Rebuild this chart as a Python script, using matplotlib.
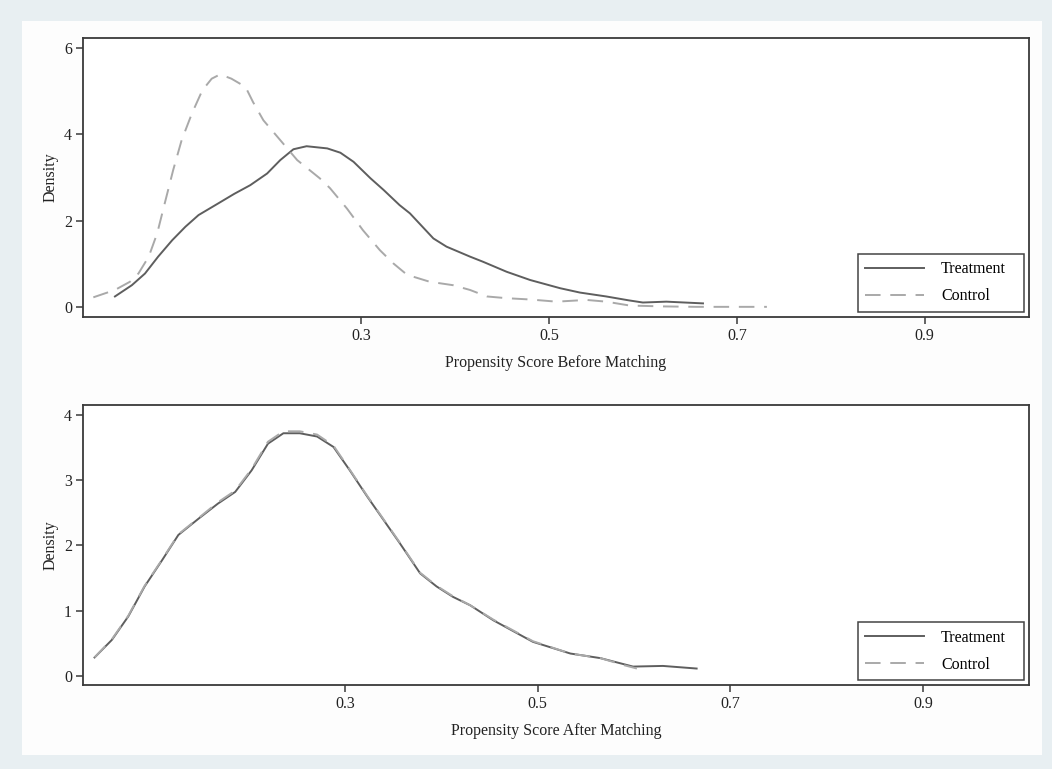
import matplotlib
matplotlib.use("Agg")
import matplotlib.pyplot as plt
from matplotlib.patches import Rectangle

plt.rcParams['font.family'] = ['Liberation Serif', 'DejaVu Serif']

# Before matching: kernel density
treat_x = [0.038, 0.056, 0.070, 0.084, 0.099, 0.113, 0.127, 0.148, 0.165, 0.182,
           0.200, 0.214, 0.228, 0.242, 0.264, 0.278, 0.292, 0.310, 0.324, 0.341,
           0.352, 0.377, 0.391, 0.416, 0.430, 0.455, 0.480, 0.512, 0.533, 0.561,
           0.585, 0.600, 0.625, 0.664]
treat_y = [0.25, 0.51, 0.78, 1.17, 1.55, 1.86, 2.13, 2.40, 2.62, 2.82,
           3.09, 3.40, 3.65, 3.72, 3.67, 3.57, 3.36, 2.98, 2.71, 2.36,
           2.17, 1.59, 1.40, 1.17, 1.05, 0.82, 0.63, 0.44, 0.34, 0.25,
           0.16, 0.11, 0.13, 0.09]

ctrl_x = [0.015, 0.038, 0.054, 0.063, 0.074, 0.083, 0.091, 0.100, 0.109, 0.120,
          0.131, 0.141, 0.150, 0.162, 0.177, 0.185, 0.196, 0.214, 0.232, 0.256,
          0.267, 0.285, 0.302, 0.320, 0.334, 0.349, 0.373, 0.398, 0.416, 0.434,
          0.455, 0.480, 0.508, 0.540, 0.561, 0.586, 0.622, 0.657, 0.732]
ctrl_y = [0.23, 0.40, 0.59, 0.78, 1.17, 1.71, 2.40, 3.17, 3.86, 4.48,
          5.01, 5.28, 5.38, 5.28, 5.09, 4.74, 4.32, 3.86, 3.40, 2.98,
          2.75, 2.28, 1.78, 1.32, 1.02, 0.75, 0.59, 0.51, 0.40, 0.25,
          0.21, 0.18, 0.13, 0.17, 0.13, 0.04, 0.02, 0.01, 0.01]

# After matching
m_treat_x = [0.040, 0.058, 0.075, 0.092, 0.110, 0.127, 0.148, 0.168, 0.186, 0.203,
             0.220, 0.236, 0.253, 0.271, 0.288, 0.305, 0.323, 0.340, 0.357, 0.378,
             0.395, 0.412, 0.430, 0.454, 0.495, 0.534, 0.565, 0.599, 0.630, 0.665]
m_treat_y = [0.28, 0.55, 0.91, 1.37, 1.77, 2.16, 2.41, 2.64, 2.82, 3.15,
             3.56, 3.72, 3.72, 3.67, 3.51, 3.15, 2.75, 2.39, 2.03, 1.57,
             1.37, 1.21, 1.08, 0.85, 0.52, 0.34, 0.27, 0.14, 0.15, 0.11]

m_ctrl_x = [0.040, 0.058, 0.075, 0.092, 0.110, 0.127, 0.148, 0.168, 0.186, 0.203,
            0.220, 0.236, 0.253, 0.271, 0.288, 0.305, 0.323, 0.340, 0.357, 0.378,
            0.395, 0.412, 0.430, 0.454, 0.495, 0.534, 0.565, 0.590, 0.603]
m_ctrl_y = [0.28, 0.56, 0.92, 1.38, 1.78, 2.17, 2.42, 2.66, 2.84, 3.17,
            3.59, 3.75, 3.75, 3.70, 3.53, 3.16, 2.76, 2.40, 2.04, 1.58,
            1.38, 1.22, 1.08, 0.86, 0.53, 0.34, 0.27, 0.16, 0.11]

x_ticks = [0.3, 0.5, 0.7, 0.9]
top_yticks = [0, 2, 4, 6]
bot_yticks = [0, 1, 2, 3, 4]

treat_color = '#5e5e5e'
ctrl_color = '#a9a9a9'
spine_color = '#3a3a3a'

fig = plt.figure(figsize=(10.52, 7.69), dpi=100)
fig.patch.set_facecolor('#e8eff2')
fig.patches.append(Rectangle((22 / 1052, 1 - 755 / 769), (1042 - 22) / 1052, (755 - 21) / 769,
                             transform=fig.transFigure, facecolor='#fdfdfd',
                             edgecolor='none', zorder=-10))

ax1 = fig.add_axes([0.0789, 0.5878, 0.8992, 0.3628])
ax2 = fig.add_axes([0.0789, 0.1092, 0.8992, 0.3641])


def style_axes(ax, xlim, ylim, yticks, xlabel, leg_box):
    ax.set_facecolor('white')
    ax.set_xlim(*xlim)
    ax.set_ylim(*ylim)
    ax.set_xticks(x_ticks)
    ax.set_xticklabels([str(t) for t in x_ticks])
    ax.set_yticks(yticks)
    ax.tick_params(axis='both', direction='out', length=5, width=1.1,
                   color=spine_color, labelsize=11.5, labelcolor='#222222', pad=3)
    for s in ax.spines.values():
        s.set_color(spine_color)
        s.set_linewidth(1.3)
    ax.set_xlabel(xlabel, fontsize=11.5, color='#222222', labelpad=8)
    ax.set_ylabel('Density', fontsize=11.5, color='#222222', labelpad=3.7)
    leg = ax.legend(loc='lower left', bbox_to_anchor=leg_box, mode='expand',
                    borderaxespad=0, fancybox=False, framealpha=1,
                    edgecolor='#444444', fontsize=11.5, handlelength=3.7,
                    handletextpad=1.05, labelspacing=0.7, borderpad=0.45)
    leg.get_frame().set_linewidth(1.1)


ax1.plot(treat_x, treat_y, color=treat_color, lw=1.4, label='Treatment')
ax1.plot(ctrl_x, ctrl_y, color=ctrl_color, lw=1.4, ls=(0, (8, 5)), label='Control')
style_axes(ax1, (0.004, 1.011), (-0.224, 6.22), top_yticks,
           'Propensity Score Before Matching', (0.8192, 0.019, 0.1755, 0.2))

ax2.plot(m_treat_x, m_treat_y, color=treat_color, lw=1.4, label='Treatment')
ax2.plot(m_ctrl_x, m_ctrl_y, color=ctrl_color, lw=1.4, ls=(0, (8, 5)), label='Control')
style_axes(ax2, (0.028, 1.010), (-0.143, 4.153), bot_yticks,
           'Propensity Score After Matching', (0.8192, 0.018, 0.1755, 0.2))

fig.savefig('out.png', dpi=100, facecolor=fig.get_facecolor())
